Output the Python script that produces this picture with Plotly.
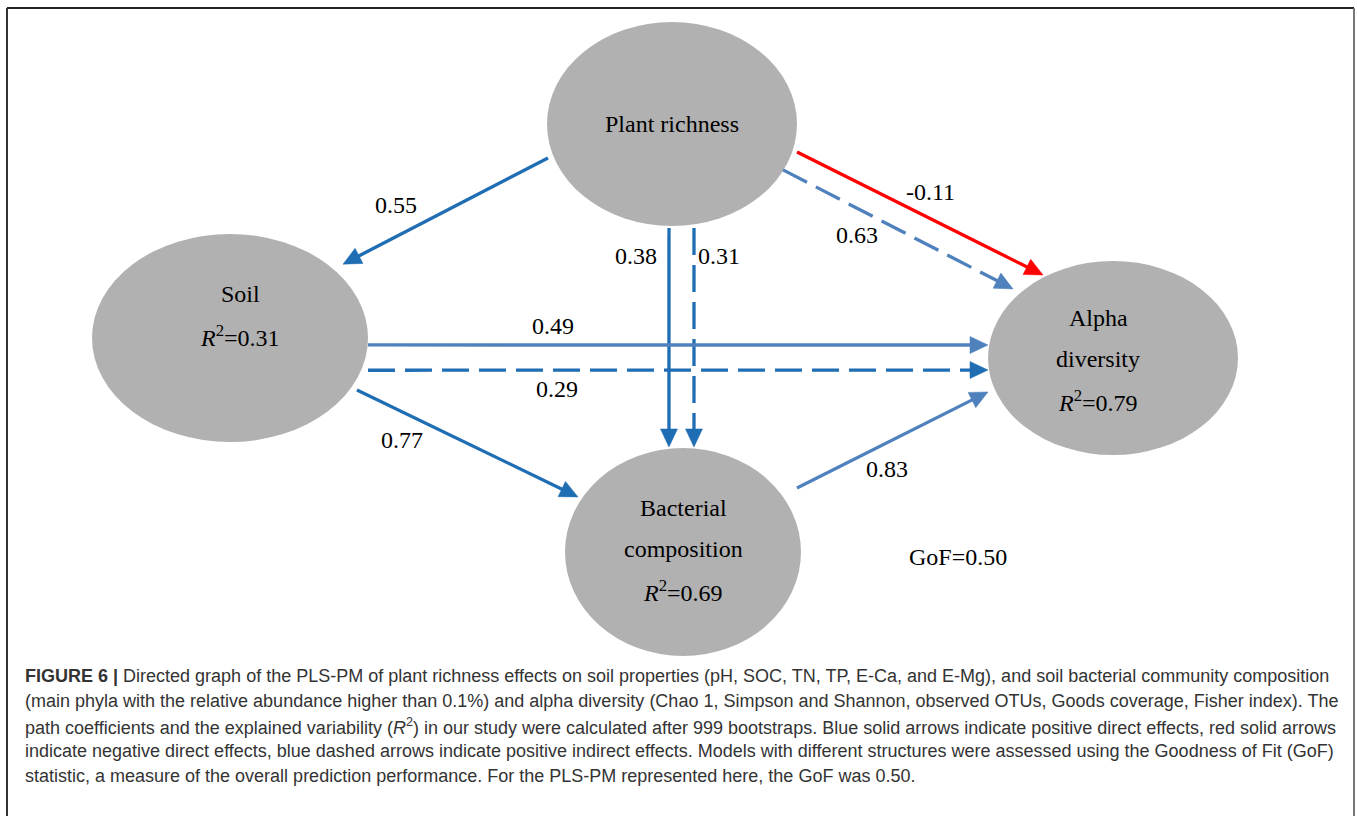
import math
import plotly.graph_objects as go

# ---- model content -------------------------------------------------------
node_names = ["Plant richness", "Soil", "Bacterial composition", "Alpha diversity"]
node_lines = [["Plant richness"], ["Soil"], ["Bacterial", "composition"], ["Alpha", "diversity"]]
node_r2 = [None, 0.31, 0.69, 0.79]

edge_source = ["Plant richness", "Plant richness", "Plant richness", "Plant richness",
               "Plant richness", "Soil", "Soil", "Soil", "Bacterial composition"]
edge_target = ["Soil", "Bacterial composition", "Bacterial composition", "Alpha diversity",
               "Alpha diversity", "Alpha diversity", "Alpha diversity",
               "Bacterial composition", "Alpha diversity"]
edge_coef = [0.55, 0.38, 0.31, -0.11, 0.63, 0.49, 0.29, 0.77, 0.83]
edge_effect = ["direct", "direct", "indirect", "direct", "indirect",
               "direct", "indirect", "direct", "direct"]

gof = 0.50

caption_lines = [
    "<b>FIGURE 6 |</b> Directed graph of the PLS-PM of plant richness effects on soil properties (pH, SOC, TN, TP, E-Ca, and E-Mg), and soil bacterial community composition",
    "(main phyla with the relative abundance higher than 0.1%) and alpha diversity (Chao 1, Simpson and Shannon, observed OTUs, Goods coverage, Fisher index). The",
    "path coefficients and the explained variability (<i>R</i><sup>2</sup>) in our study were calculated after 999 bootstraps. Blue solid arrows indicate positive direct effects, red solid arrows",
    "indicate negative direct effects, blue dashed arrows indicate positive indirect effects. Models with different structures were assessed using the Goodness of Fit (GoF)",
    "statistic, a measure of the overall prediction performance. For the PLS-PM represented here, the GoF was 0.50.",
]

# ---- drawing layout (canvas pixels, y grows downward) ---------------------
W, H = 1357, 816
NODE_GEOM = {  # centre x, centre y, radius x, radius y, text centre x, text centre y
    "Plant richness": (672, 124, 125, 102, 672, 124),
    "Soil": (230, 338, 138, 104, 240, 315),
    "Bacterial composition": (683, 552, 118, 104, 683, 549),
    "Alpha diversity": (1113, 358, 125, 97, 1098, 359),
}
# attachment points of each edge, as offsets in units of the node radii
EDGE_ROUTE = [
    ((-0.992, 0.333), (0.819, -0.71)),
    ((-0.024, 1.02), (-0.119, -1.01)),
    ((0.176, 1.02), (0.093, -1.01)),
    ((1.0, 0.275), (-0.56, -0.856)),
    ((0.888, 0.45), (-0.8, -0.712)),
    ((1.0, 0.067), (-1.0, -0.134)),
    ((1.0, 0.31), (-1.0, 0.124)),
    ((0.92, 0.5), (-0.89, -0.53)),
    ((0.966, -0.616), (-1.0, 0.35)),
]
LABEL_SHIFT = [(-50, -6), (-33, -82), (25, -82), (10, -22), (-41, 6),
               (-125, -19), (-121, 19), (-65, -3), (-5, 29)]
GOF_POS = (958, 557)

DARK_BLUE = "#1f6db3"
LIGHT_BLUE = "#4f81bd"
RED = "#ff0000"
EDGE_COLOR = [DARK_BLUE, DARK_BLUE, DARK_BLUE, RED, LIGHT_BLUE,
              LIGHT_BLUE, DARK_BLUE, DARK_BLUE, LIGHT_BLUE]
NODE_FILL = "#b1b1b1"
SERIF = "Liberation Serif, Times New Roman, serif"
TXT = 24

fig = go.Figure()


def anchor(name, off):
    cx, cy, rx, ry, _, _ = NODE_GEOM[name]
    return cx + off[0] * rx, cy + off[1] * ry


# nodes
for name in node_names:
    cx, cy, rx, ry, _, _ = NODE_GEOM[name]
    fig.add_shape(type="circle", xref="x", yref="y",
                  x0=cx - rx, x1=cx + rx, y0=cy - ry, y1=cy + ry,
                  fillcolor=NODE_FILL, line=dict(width=0), layer="below")

# edges: shaft + filled arrowhead
HEAD_LEN, HEAD_HALF = 18, 8.5
for i, coef in enumerate(edge_coef):
    x0, y0 = anchor(edge_source[i], EDGE_ROUTE[i][0])
    x1, y1 = anchor(edge_target[i], EDGE_ROUTE[i][1])
    L = math.hypot(x1 - x0, y1 - y0)
    ux, uy = (x1 - x0) / L, (y1 - y0) / L
    bx, by = x1 - ux * HEAD_LEN, y1 - uy * HEAD_LEN
    dash = "solid" if edge_effect[i] == "direct" else "27px,10px"
    col = EDGE_COLOR[i]
    fig.add_trace(go.Scatter(x=[x0, bx + ux * 2], y=[y0, by + uy * 2], mode="lines",
                             line=dict(color=col, width=3.3, dash=dash),
                             hoverinfo="skip", showlegend=False))
    px, py = -uy, ux
    fig.add_trace(go.Scatter(
        x=[x1, bx + px * HEAD_HALF, bx - px * HEAD_HALF, x1],
        y=[y1, by + py * HEAD_HALF, by - py * HEAD_HALF, y1],
        mode="lines", fill="toself", fillcolor=col, line=dict(color=col, width=0.5),
        hoverinfo="skip", showlegend=False))
    mx, my = (x0 + x1) / 2, (y0 + y1) / 2
    fig.add_annotation(x=mx + LABEL_SHIFT[i][0], y=my + LABEL_SHIFT[i][1],
                       text=f"{coef:.2f}", showarrow=False,
                       font=dict(family=SERIF, size=TXT, color="#000"))

# node texts
LINE_GAP = 41.5
for name, lines, r2 in zip(node_names, node_lines, node_r2):
    _, _, _, _, tx, ty = NODE_GEOM[name]
    rows = list(lines)
    if r2 is not None:
        rows.append(f"<i>R</i><sup>2</sup>={r2:.2f}")
    n = len(rows)
    for k, row in enumerate(rows):
        fig.add_annotation(x=tx, y=ty + (k - (n - 1) / 2) * LINE_GAP, text=row,
                           showarrow=False, font=dict(family=SERIF, size=TXT, color="#000"))

fig.add_annotation(x=GOF_POS[0], y=GOF_POS[1], text=f"GoF={gof:.2f}", showarrow=False,
                   font=dict(family=SERIF, size=TXT, color="#000"))

# caption
for k, line in enumerate(caption_lines):
    fig.add_annotation(x=23, y=676 + k * 25, text=line, showarrow=False,
                       xanchor="left", yanchor="middle",
                       font=dict(family="Liberation Sans, Arial, sans-serif", size=18, color="#333"))

# panel frame
fig.add_shape(type="line", x0=7, x1=1354, y0=8, y1=8, line=dict(color="#222", width=2))
fig.add_shape(type="line", x0=7, x1=7, y0=8, y1=H, line=dict(color="#333", width=2))
fig.add_shape(type="line", x0=1354, x1=1354, y0=8, y1=H, line=dict(color="#777", width=2))

fig.update_layout(
    width=W, height=H, margin=dict(l=0, r=0, t=0, b=0),
    paper_bgcolor="white", plot_bgcolor="white",
    xaxis=dict(range=[0, W], visible=False, fixedrange=True),
    yaxis=dict(range=[H, 0], visible=False, fixedrange=True),
)
fig.write_html("out.html")
